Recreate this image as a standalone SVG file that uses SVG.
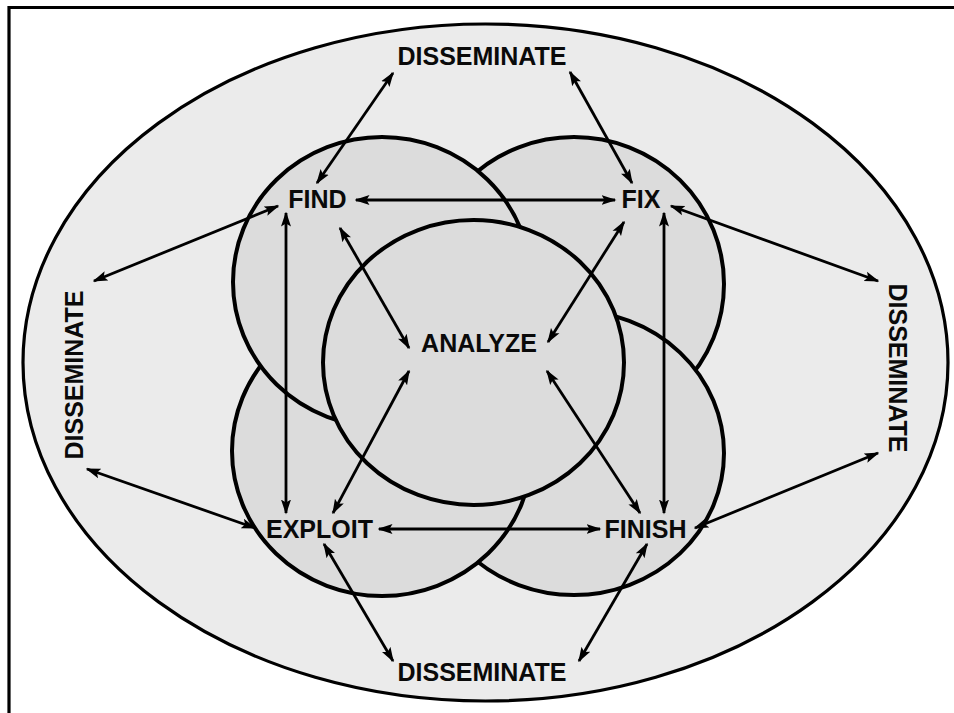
<svg xmlns="http://www.w3.org/2000/svg" width="954" height="713" viewBox="0 0 954 713">
  <style>
    .frame { fill: none; stroke: #000; stroke-width: 3.2; }
    .outer { fill: #ebebeb; stroke: #000; stroke-width: 3.2; }
    .ring { fill: #dcdcdc; stroke: #000; stroke-width: 4; }
    .link { fill: none; stroke: #000; stroke-width: 2.8; marker-start: url(#head); marker-end: url(#head); }
    .label { font-family: "Liberation Sans", Arial, Helvetica, sans-serif; font-weight: bold; font-size: 25px; fill: #0a0a0a; text-anchor: middle; }
  </style>
  <defs>
    <marker id="head" markerUnits="userSpaceOnUse" markerWidth="15" markerHeight="11" refX="13.5" refY="5.5" orient="auto-start-reverse">
      <path d="M0,0.5 L15,5.5 L0,10.5 L3,5.5 z" fill="#000"/>
    </marker>
  </defs>

  <rect width="954" height="713" fill="#fff"/>
  <path class="frame" d="M9,713 V7.5 H954"/>

  <!-- outer dissemination field -->
  <ellipse id="field" class="outer" cx="485.5" cy="362.5" rx="462.5" ry="338.5"/>

  <!-- phase circles, stacked so their overlaps interleave -->
  <g id="fix-area"><ellipse class="ring" cx="574" cy="284" rx="150" ry="147"/></g>
  <g id="finish-area"><ellipse class="ring" cx="574" cy="453" rx="150" ry="142"/></g>
  <g id="exploit-area"><ellipse class="ring" cx="382" cy="451" rx="150" ry="145"/></g>
  <g id="find-area"><ellipse class="ring" cx="382" cy="282" rx="149" ry="145"/></g>
  <g id="analyze-area"><ellipse class="ring" cx="473.5" cy="362.5" rx="150.5" ry="142.5"/></g>

  <!-- two-way flows -->
  <g id="connectors">
    <line class="link" x1="393" y1="73" x2="317" y2="183"/>
    <line class="link" x1="570" y1="72" x2="632" y2="183"/>
    <line class="link" x1="356" y1="200" x2="615" y2="200"/>
    <line class="link" x1="94" y1="281" x2="278" y2="206"/>
    <line class="link" x1="671" y1="206" x2="878" y2="281"/>
    <line class="link" x1="286" y1="213" x2="286" y2="513"/>
    <line class="link" x1="664" y1="213" x2="664" y2="513"/>
    <line class="link" x1="340" y1="228" x2="409" y2="348"/>
    <line class="link" x1="624" y1="222" x2="548" y2="342"/>
    <line class="link" x1="409" y1="371" x2="333" y2="513"/>
    <line class="link" x1="547" y1="371" x2="640" y2="513"/>
    <line class="link" x1="379" y1="529" x2="600" y2="529"/>
    <line class="link" x1="87" y1="469" x2="255" y2="528"/>
    <line class="link" x1="695" y1="528" x2="878" y2="453"/>
    <line class="link" x1="324" y1="544" x2="393" y2="661"/>
    <line class="link" x1="647" y1="544" x2="579" y2="661"/>
  </g>

  <!-- labels -->
  <g id="find"><text class="label" x="317.5" y="208">FIND</text></g>
  <g id="fix"><text class="label" x="641" y="208">FIX</text></g>
  <g id="analyze"><text class="label" x="479" y="352">ANALYZE</text></g>
  <g id="exploit"><text class="label" x="319.5" y="538">EXPLOIT</text></g>
  <g id="finish"><text class="label" x="645.5" y="538">FINISH</text></g>
  <g id="disseminate-top"><text class="label" x="482" y="65">DISSEMINATE</text></g>
  <g id="disseminate-bottom"><text class="label" x="482" y="681">DISSEMINATE</text></g>
  <g id="disseminate-left"><text class="label" transform="translate(83,375) rotate(-90)">DISSEMINATE</text></g>
  <g id="disseminate-right"><text class="label" transform="translate(889,368) rotate(90)">DISSEMINATE</text></g>
</svg>
